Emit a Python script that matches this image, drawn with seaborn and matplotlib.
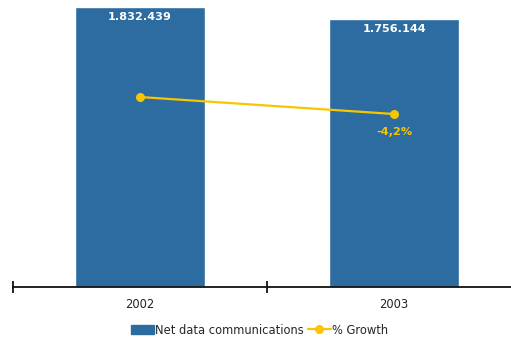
import matplotlib
matplotlib.use("Agg")
import matplotlib.pyplot as plt
from matplotlib.patches import Patch
from matplotlib.lines import Line2D
import numpy as np
import pandas as pd
import seaborn as sns

years = ["2002", "2003"]
net_data = [1832439, 1756144]
growth = [0.0, -4.2]
growth_labels = [None, "-4,2%"]

BAR = "#2C6CA0"
LINE = "#F7C600"

sns.set_theme(style="white")
plt.rcParams["font.family"] = ["DejaVu Sans"]

df = pd.DataFrame({"year": years, "net": net_data, "growth": growth})

fig = plt.figure(figsize=(5.11, 3.38), dpi=100)
ax = fig.add_axes([13 / 511, 1 - 287 / 338, 508 / 511, 287 / 338])

sns.barplot(data=df, x="year", y="net", color=BAR, width=0.51, saturation=1, ax=ax)
ax.set_xlim(-0.5, 1.5)
ax.set_ylim(0, 1878000)

for i, v in enumerate(net_data):
    s = f"{v:,}".replace(",", ".")
    ax.text(i, v - 68000, s, color="white", fontsize=8.1, fontweight="bold",
            ha="center", va="center")

for sp in ["top", "right", "left"]:
    ax.spines[sp].set_visible(False)
ax.spines["bottom"].set_color("#111111")
ax.spines["bottom"].set_linewidth(1.3)
ax.set_yticks([])
ax.set_xlabel("")
ax.set_ylabel("")

# boundary ticks crossing the axis, labels at the category centres
ax.set_xticks([-0.5, 0.5, 1.5])
ax.set_xticklabels(["", "", ""])
ax.tick_params(axis="x", which="major", direction="inout", length=9, width=1.3,
               color="#111111", bottom=True)
ax.set_xticks(range(len(years)), minor=True)
ax.set_xticklabels(years, minor=True)
ax.tick_params(axis="x", which="minor", length=0, pad=8, labelsize=8.3,
               labelcolor="#222222")

ax2 = ax.twinx()
xpos = np.arange(len(years))
sns.lineplot(x=xpos, y=growth, color=LINE, linewidth=1.6, marker="o",
             markersize=6.5, markeredgewidth=0, ax=ax2)
ax2.set_ylim(-46.9, 23.95)
ax2.set_xlim(-0.5, 1.5)
ax2.axis("off")
for i, (g, lab) in enumerate(zip(growth, growth_labels)):
    if lab:
        ax2.text(i, g - 4.4, lab, color=LINE, fontsize=8.1, fontweight="bold",
                 ha="center", va="center")

handles = [Patch(facecolor=BAR, edgecolor=BAR),
           Line2D([0], [0], color=LINE, lw=1.6, marker="o", markersize=6.5,
                  markeredgewidth=0)]
fig.legend(handles, ["Net data communications", "% Growth"], loc="center",
           bbox_to_anchor=(0.508, 1 - 330 / 338), ncol=2, frameon=False,
           fontsize=8.3, handlelength=2.0, handleheight=0.9, columnspacing=0.3,
           handletextpad=0.1)

fig.savefig("out.png", dpi=100)
